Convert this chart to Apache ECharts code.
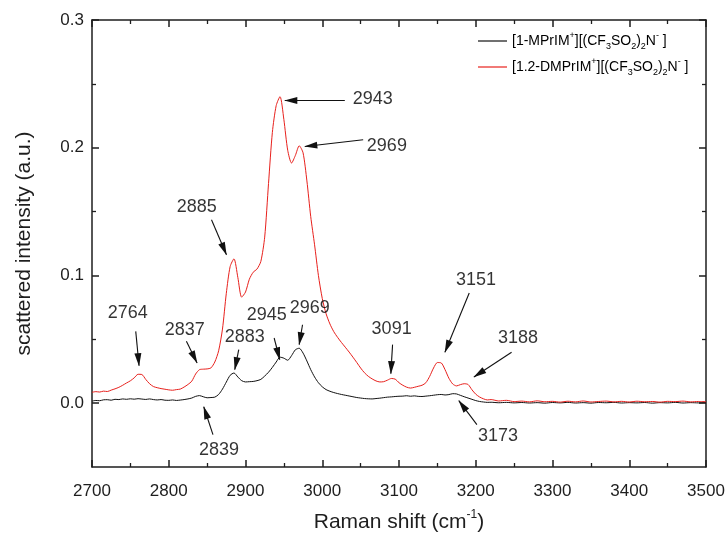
<!DOCTYPE html>
<html><head><meta charset="utf-8">
<script src="https://cdn.jsdelivr.net/npm/echarts@6/dist/echarts.min.js"></script>
<style>html,body{margin:0;padding:0;background:#fff}#c{width:727px;height:539px}</style>
</head><body><div id="c"></div>
<script>
// Raman shift (cm-1)
const wavenumber = [
  2700,2705,2710,2715,2720,2725,2730,2735,2740,2745,
  2750,2755,2760,2765,2770,2775,2780,2785,2790,2795,
  2800,2805,2810,2815,2820,2825,2830,2835,2840,2845,
  2850,2855,2860,2865,2870,2875,2880,2885,2890,2895,
  2900,2905,2910,2915,2920,2925,2930,2935,2940,2945,
  2950,2955,2960,2965,2970,2975,2980,2985,2990,2995,
  3000,3005,3010,3015,3020,3025,3030,3035,3040,3045,
  3050,3055,3060,3065,3070,3075,3080,3085,3090,3095,
  3100,3105,3110,3115,3120,3125,3130,3135,3140,3145,
  3150,3155,3160,3165,3170,3175,3180,3185,3190,3195,
  3200,3205,3210,3215,3220,
  3230,3240,3250,3260,3270,3280,3290,3300,3310,3320,
  3330,3340,3350,3360,3370,3380,3390,3400,3410,3420,
  3430,3440,3450,3460,3470,3480,3490,3500
];
// [1-MPrIM+][(CF3SO2)2N-]  (black)
const mprim = [
  0.0016,0.0021,0.0019,0.0026,0.0027,0.0023,0.0030,0.0028,0.0033,0.0030,
  0.0034,0.0031,0.0035,0.0032,0.0029,0.0033,0.0028,0.0025,0.0028,0.0023,
  0.0022,0.0025,0.0021,0.0024,0.0028,0.0033,0.0040,0.0053,0.0059,0.0050,
  0.0042,0.0044,0.0047,0.0068,0.0110,0.0165,0.0218,0.0236,0.0205,0.0176,
  0.0166,0.0168,0.0170,0.0176,0.0186,0.0212,0.0242,0.0280,0.0322,0.0360,
  0.0352,0.0336,0.0372,0.0418,0.0430,0.0392,0.0330,0.0262,0.0205,0.0160,
  0.0128,0.0106,0.0093,0.0083,0.0075,0.0068,0.0062,0.0056,0.0050,0.0044,
  0.0040,0.0036,0.0034,0.0033,0.0036,0.0039,0.0043,0.0047,0.0049,0.0052,
  0.0054,0.0055,0.0058,0.0054,0.0057,0.0053,0.0052,0.0055,0.0058,0.0062,
  0.0066,0.0068,0.0064,0.0067,0.0074,0.0072,0.0061,0.0050,0.0040,0.0030,
  0.0020,0.0013,0.0009,0.0006,0.0007,
  0.0003,0.0006,0.0002,0.0005,0.0001,0.0004,0.0000,0.0005,0.0002,0.0006,
  0.0001,0.0004,0.0000,0.0005,0.0003,0.0006,0.0001,0.0004,0.0002,0.0005,
  0.0000,0.0004,0.0002,0.0006,0.0001,0.0004,0.0002,0.0004
];
// [1.2-DMPrIM+][(CF3SO2)2N-]  (red)
const dmprim = [
  0.0085,0.0090,0.0087,0.0094,0.0091,0.0102,0.0112,0.0124,0.0140,0.0158,
  0.0175,0.0198,0.0226,0.0224,0.0186,0.0152,0.0130,0.0121,0.0114,0.0109,
  0.0104,0.0101,0.0106,0.0110,0.0126,0.0146,0.0172,0.0228,0.0262,0.0266,
  0.0268,0.0276,0.0322,0.0410,0.0580,0.0860,0.1070,0.1130,0.0985,0.0830,
  0.0870,0.0970,0.1025,0.1050,0.1110,0.1300,0.1720,0.2120,0.2330,0.2400,
  0.2220,0.1980,0.1880,0.1940,0.2015,0.1960,0.1740,0.1460,0.1240,0.1000,
  0.0820,0.0700,0.0620,0.0560,0.0515,0.0475,0.0438,0.0400,0.0360,0.0318,
  0.0275,0.0238,0.0210,0.0190,0.0174,0.0166,0.0168,0.0180,0.0193,0.0188,
  0.0160,0.0140,0.0125,0.0118,0.0124,0.0132,0.0140,0.0160,0.0210,0.0275,
  0.0318,0.0315,0.0262,0.0195,0.0150,0.0135,0.0145,0.0152,0.0146,0.0105,
  0.0070,0.0048,0.0034,0.0025,0.0028,
  0.0017,0.0022,0.0012,0.0016,0.0010,0.0018,0.0011,0.0014,0.0008,0.0015,
  0.0010,0.0017,0.0009,0.0013,0.0016,0.0010,0.0014,0.0009,0.0015,0.0011,
  0.0013,0.0008,0.0014,0.0012,0.0016,0.0010,0.0013,0.0011
];
const yMajorTicks = [0, 0.1, 0.2, 0.3];
const yMinorTicks = [0.05, 0.15, 0.25];
// peak annotations: label text, label centre, arrow start, arrow tip (data units)
const annText   = ['2943','2969','2885','2764','2837','2883','2945','2969','3091','3151','3188','2839','3173'];
const annX      = [3065.9,3084.2,2836.5,2746.5,2820.8,2899.0,2927.7,2983.8,3090.4,3200.2,3255.0,2865.4,3228.9];
const annY      = [0.2383,0.2015,0.1538,0.0708,0.0575,0.0520,0.0692,0.0747,0.0583,0.0966,0.0513,-0.0364,-0.0254];
const arrowFromX= [3029.4,3053.3,2855.7,2757.0,2823.0,2891.2,2937.3,2974.3,3091.6,3191.5,3246.7,2857.6,3201.5];
const arrowFromY= [0.2370,0.2062,0.1436,0.0562,0.0484,0.0419,0.0510,0.0614,0.0458,0.0862,0.0398,-0.0247,-0.0168];
const arrowToX  = [2951.2,2977.3,2875.2,2761.3,2836.9,2886.0,2944.7,2969.9,3089.4,3159.8,3197.6,2845.6,3177.9];
const arrowToY  = [0.2370,0.2009,0.1162,0.0293,0.0315,0.0262,0.0340,0.0458,0.0231,0.0398,0.0205,-0.0028,0.0020];

const nameBlack = 'MPrIM';
const nameRed = 'DMPrIM';
const legendText = {
  'MPrIM': '{n|[1-MPrIM}{sup|+}{n|][(CF}{sub|3}{n|SO}{sub|2}{n|)}{sub|2}{n|N}{sup|-}{n| ]}',
  'DMPrIM': '{n|[1.2-DMPrIM}{sup|+}{n|][(CF}{sub|3}{n|SO}{sub|2}{n|)}{sub|2}{n|N}{sup|-}{n| ]}'
};

const FONT = "'Liberation Sans', Arial, sans-serif";
const AX = '#1e1e1e';
const chart = echarts.init(document.getElementById('c'), null, {renderer: 'canvas'});

const xBase = {
  type: 'value', min: 2700, max: 3500, interval: 100,
  splitLine: {show: false}, minorSplitLine: {show: false},
  axisLine: {show: true, onZero: false, lineStyle: {color: AX, width: 1.5}},
  axisTick: {show: true, inside: true, length: 7, lineStyle: {color: AX, width: 1.5}},
  minorTick: {show: true, splitNumber: 2, length: 4, lineStyle: {color: AX, width: 1.3}}
};
const yBase = {
  type: 'value', min: -0.05, max: 0.3, interval: 0.05,
  splitLine: {show: false},
  axisLine: {show: true, onZero: false, lineStyle: {color: AX, width: 1.5}},
};

chart.setOption({
  animation: false,
  backgroundColor: '#fff',
  grid: {left: 92, right: 21, top: 20, bottom: 72, containLabel: false, outerBoundsMode: 'none'},
  legend: {
    data: [nameBlack, nameRed],
    orient: 'vertical', left: 473, top: 26,
    icon: 'rect', itemWidth: 29, itemHeight: 1.2, itemGap: 6,
    formatter: n => legendText[n],
    textStyle: {
      fontFamily: FONT, color: '#000',
      rich: {
        n: {fontSize: 14, lineHeight: 20, fontFamily: FONT, color: '#000'},
        sup: {fontSize: 9, verticalAlign: 'top', lineHeight: 11, fontFamily: FONT, color: '#000'},
        sub: {fontSize: 9, verticalAlign: 'bottom', lineHeight: 11, fontFamily: FONT, color: '#000'}
      }
    }
  },
  xAxis: [
    Object.assign({}, xBase, {
      position: 'bottom',
      axisLabel: {show: true, margin: 16, fontSize: 17, color: AX, fontFamily: FONT, formatter: v => String(v)},
      name: '{a|Raman shift (cm}{s|-1}{a|)}',
      nameLocation: 'middle', nameGap: 42,
      nameTextStyle: {
        fontFamily: FONT, color: AX,
        rich: {
          a: {fontSize: 21, lineHeight: 26, fontFamily: FONT, color: AX},
          s: {fontSize: 12, verticalAlign: 'top', lineHeight: 14, fontFamily: FONT, color: AX}
        }
      }
    }),
    Object.assign({}, xBase, {position: 'top', axisLabel: {show: false}})
  ],
  yAxis: [
    Object.assign({}, yBase, {
      position: 'left',
      axisLabel: {show: true, customValues: yMajorTicks, formatter: v => v.toFixed(1),
        margin: 8, fontSize: 17, color: AX, fontFamily: FONT},
      axisTick: {show: true, customValues: yMajorTicks, inside: true, length: 7, lineStyle: {color: AX, width: 1.5}},
      name: 'scattered intensity (a.u.)', nameLocation: 'middle', nameRotate: 90, nameGap: 57,
      nameTextStyle: {fontSize: 21, fontFamily: FONT, color: AX}
    }),
    Object.assign({}, yBase, {
      position: 'right',
      axisLabel: {show: false},
      axisTick: {show: true, customValues: yMajorTicks, inside: true, length: 7, lineStyle: {color: AX, width: 1.5}}
    }),
    Object.assign({}, yBase, {
      position: 'left', axisLine: {show: false}, axisLabel: {show: false},
      axisTick: {show: true, customValues: yMinorTicks, inside: true, length: 4, lineStyle: {color: AX, width: 1.3}}
    }),
    Object.assign({}, yBase, {
      position: 'right', axisLine: {show: false}, axisLabel: {show: false},
      axisTick: {show: true, customValues: yMinorTicks, inside: true, length: 4, lineStyle: {color: AX, width: 1.3}}
    })
  ],
  series: [
    {
      name: nameBlack, type: 'line', xAxisIndex: 0, yAxisIndex: 0,
      data: wavenumber.map((w, i) => [w, mprim[i]]),
      symbol: 'none', smooth: 0.25,
      lineStyle: {color: '#111', width: 1}, itemStyle: {color: '#111'}, z: 2
    },
    {
      name: nameRed, type: 'line', xAxisIndex: 0, yAxisIndex: 0,
      data: wavenumber.map((w, i) => [w, dmprim[i]]),
      symbol: 'none', smooth: 0.25,
      lineStyle: {color: '#e8201c', width: 1}, itemStyle: {color: '#e8201c'}, z: 3
    },
    {
      name: 'annotations', type: 'scatter', xAxisIndex: 0, yAxisIndex: 0,
      data: annText.map((t, i) => [annX[i], annY[i], t]),
      symbolSize: 1, itemStyle: {color: 'rgba(0,0,0,0)'}, silent: true, z: 5,
      labelLayout: {hideOverlap: false},
      label: {show: true, position: 'inside', formatter: p => p.value[2],
        fontSize: 18, color: '#000', textBorderWidth: 0, fontFamily: FONT},
      markLine: {
        silent: true, animation: false,
        symbol: ['none', 'triangle'], symbolSize: [0, 10],
        label: {show: false},
        lineStyle: {color: '#111', width: 1.1, type: 'solid'},
        emphasis: {disabled: true},
        data: annText.map((t, i) => [
          {coord: [arrowFromX[i], arrowFromY[i]], symbol: 'none'},
          {coord: [arrowToX[i], arrowToY[i]], symbol: 'triangle', symbolSize: [7, 13], symbolOffset: [0, 6]}
        ])
      }
    }
  ]
});
</script>
</body></html>
